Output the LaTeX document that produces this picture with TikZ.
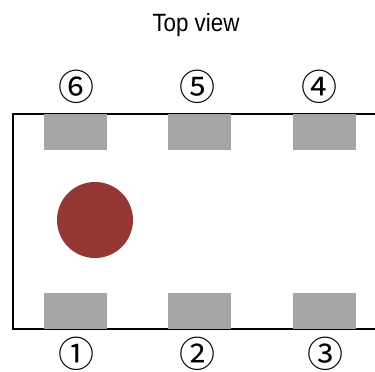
\documentclass[tikz,border=0pt]{standalone}
\usepackage{fontspec}
\setmainfont{Liberation Sans}
\newfontfamily\numfont{Noto Sans CJK SC}
\newfontfamily\titlefont[FakeStretch=0.894]{Liberation Sans}
\definecolor{padgray}{HTML}{A6A6A6}
\definecolor{ballred}{HTML}{933634}
\tikzset{
  x=1pt,y=-1pt,
  pad/.style={fill=padgray,draw=none,minimum width=63pt,minimum height=36pt,inner sep=0pt,outer sep=0pt},
  num/.style={font=\numfont\fontsize{36}{36}\selectfont,inner sep=0pt,text=black},
  ball/.style={circle,fill=ballred,draw=none,minimum size=76pt,inner sep=0pt},
  frame/.style={draw=black,line width=1.3pt}
}
\begin{document}
\begin{tikzpicture}
\useasboundingbox (0,0) rectangle (375,372);
\fill[white] (0,0) rectangle (375,372);
\node[font=\titlefont\fontsize{25}{25}\selectfont,inner sep=0pt,anchor=base] (title) at (196,31) {Top view};
\draw[frame] (375,114) -- (13,114) -- (13,329) -- (375,329);
\node[pad] (p6) at (75.5,132) {};
\node[pad] (p5) at (199.5,132) {};
\node[pad] (p4) at (324.5,132) {};
\node[pad] (p1) at (75.5,311) {};
\node[pad] (p2) at (199.5,311) {};
\node[pad] (p3) at (324.5,311) {};
\node[ball] (b) at (95,220) {};
\node[num] (n6) at (76,87) {⑥};
\node[num] (n5) at (197.5,87) {⑤};
\node[num] (n4) at (319,87) {④};
\node[num] (n1) at (76,353.5) {①};
\node[num] (n2) at (197.5,353.5) {②};
\node[num] (n3) at (325,353.5) {③};
\end{tikzpicture}
\end{document}
